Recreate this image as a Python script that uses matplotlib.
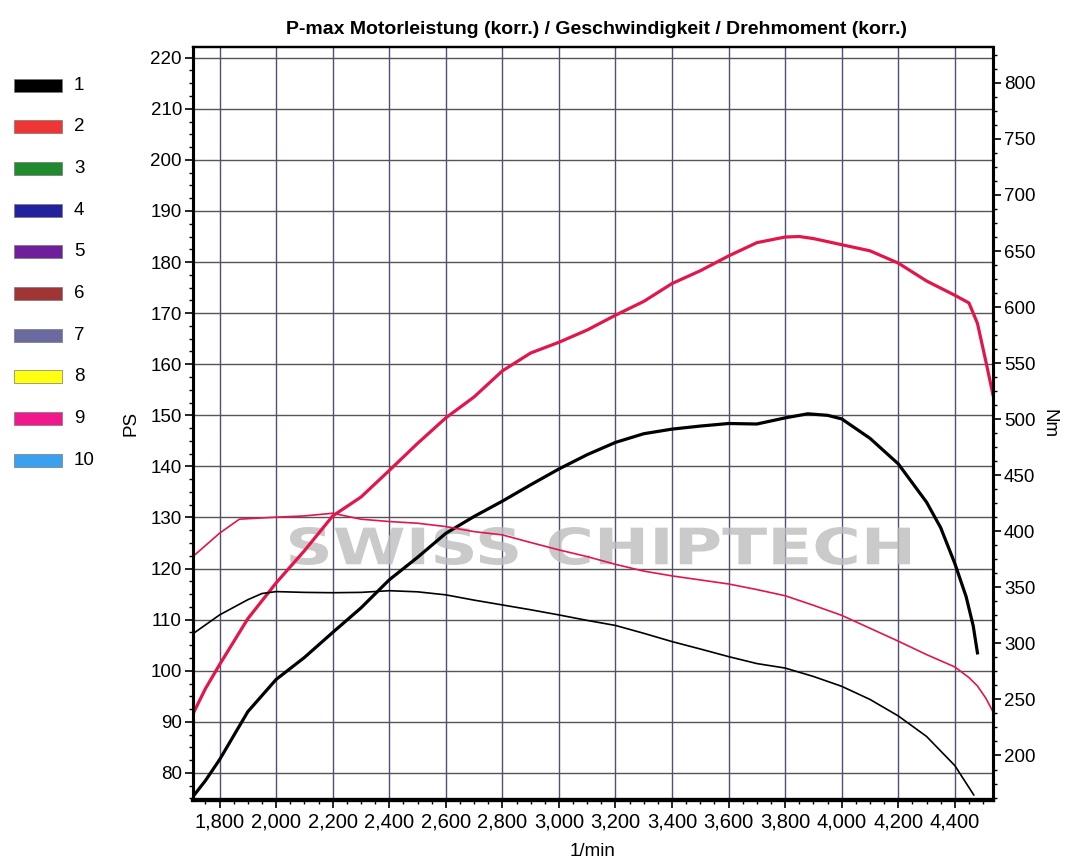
import matplotlib
matplotlib.use("Agg")
import matplotlib.pyplot as plt
import matplotlib.ticker as mticker
import matplotlib.transforms as mtransforms
from matplotlib.textpath import TextPath
from matplotlib.patches import PathPatch, Rectangle
from matplotlib.font_manager import FontProperties

plt.rcParams['font.family'] = ['Liberation Sans', 'DejaVu Sans']

# run 1 (black) power, PS
rpm_p1 = [1712, 1750, 1800, 1900, 2000, 2100, 2200, 2300, 2400, 2500, 2600, 2700,
          2800, 2900, 3000, 3100, 3200, 3300, 3400, 3500, 3600, 3700, 3800, 3880,
          3950, 4000, 4100, 4200, 4300, 4350, 4400, 4440, 4465, 4480]
ps_1 = [75.8, 78.5, 82.6, 92.0, 98.3, 102.6, 107.5, 112.3, 117.8, 122.2, 126.9, 130.2,
        133.2, 136.4, 139.5, 142.3, 144.7, 146.4, 147.3, 147.9, 148.4, 148.3, 149.5, 150.3,
        150.0, 149.3, 145.5, 140.5, 133.0, 128.0, 121.0, 114.5, 108.8, 103.5]

# run 2 (red) power, PS
rpm_p2 = [1708, 1750, 1800, 1900, 2000, 2100, 2200, 2300, 2400, 2500, 2600, 2700,
          2800, 2900, 3000, 3100, 3200, 3300, 3400, 3500, 3600, 3700, 3800, 3850,
          3900, 4000, 4100, 4200, 4300, 4400, 4450, 4480, 4510, 4535]
ps_2 = [91.8, 96.5, 101.2, 110.2, 117.2, 123.5, 130.3, 134.0, 139.2, 144.5, 149.5, 153.6,
        158.7, 162.2, 164.3, 166.7, 169.6, 172.3, 175.8, 178.3, 181.2, 183.8, 184.9, 185.0,
        184.6, 183.4, 182.2, 179.8, 176.3, 173.5, 172.0, 168.0, 160.5, 154.0]

# run 1 (black) torque, Nm
rpm_t1 = [1708, 1800, 1900, 1950, 2000, 2100, 2200, 2300, 2400, 2500, 2600, 2700,
          2800, 2900, 3000, 3100, 3200, 3300, 3400, 3500, 3600, 3700, 3800, 3900,
          4000, 4100, 4200, 4300, 4400, 4467]
nm_1 = [309, 325.4, 339, 344.5, 346.2, 345.5, 345.2, 345.5, 347, 346, 343.3, 338.6,
        334.3, 330, 325.4, 320.5, 316, 309, 301.6, 295, 288.2, 282, 278, 270.5,
        261.7, 250, 235.3, 217, 191, 164.8]

# run 2 (red) torque, Nm
rpm_t2 = [1708, 1800, 1870, 2000, 2100, 2200, 2300, 2400, 2500, 2600, 2700, 2800,
          2900, 3000, 3100, 3200, 3300, 3400, 3500, 3600, 3700, 3800, 3900, 4000,
          4100, 4200, 4300, 4400, 4450, 4480, 4510, 4535]
nm_2 = [378, 398.3, 410.8, 412.6, 413.7, 416.1, 410.8, 408.7, 407.2, 404.2, 399.7, 396.8,
        390, 383.4, 377.4, 370.5, 364.5, 360.2, 356.6, 353, 348, 342.5, 334, 325,
        313.5, 302, 290, 279, 269.5, 262, 251, 239]

legend_labels = ['1', '2', '3', '4', '5', '6', '7', '8', '9', '10']
legend_colors = ['#000000', '#f03535', '#1f8a2e', '#22229e', '#6f1f9a',
                 '#a03535', '#6a6a9e', '#ffff10', '#f0188a', '#3aa0f0']

RED = '#e3164b'
W, H = 1069, 864

fig = plt.figure(figsize=(W / 100, H / 100), dpi=100)
ax = fig.add_axes([193 / W, 1 - 800 / H, 800 / W, 753 / H])
ax2 = ax.twinx()

# power curves (left axis)
ax.plot(rpm_p1, ps_1, color='black', lw=2.3, zorder=3)
ax.plot(rpm_p2, ps_2, color=RED, lw=2.3, zorder=3)
# torque curves (right axis)
ax2.plot(rpm_t1, nm_1, color='black', lw=1.2)
ax2.plot(rpm_t2, nm_2, color=RED, lw=1.2)

ax.set_xlim(1706, 4535)
ax.set_ylim(74.7, 222.1)
ax2.set_ylim(160.3, 832)

ax.xaxis.set_major_locator(mticker.MultipleLocator(200))
ax.xaxis.set_minor_locator(mticker.MultipleLocator(50))
ax.xaxis.set_major_formatter(mticker.FuncFormatter(lambda v, p: f"{int(v):,}"))
ax.yaxis.set_major_locator(mticker.MultipleLocator(10))
ax.yaxis.set_minor_locator(mticker.MultipleLocator(2.5))
ax2.yaxis.set_major_locator(mticker.MultipleLocator(50))
ax2.yaxis.set_minor_locator(mticker.MultipleLocator(12.5))

ax.grid(True, axis='x', which='major', color='#4f4f7c', lw=1.0)
ax.grid(True, axis='y', which='major', color='#555555', lw=1.0)

for a in (ax, ax2):
    a.tick_params(which='major', length=6, width=1.2, labelsize=13.5, pad=2)
    a.tick_params(which='minor', length=3, width=1.0)
    for s in a.spines.values():
        s.set_linewidth(2.2)
    a.spines['top'].set_linewidth(1.6)
    a.spines['bottom'].set_linewidth(3.0)
ax.tick_params(axis='x', labelsize=14.5, pad=3)

ax.set_ylabel('PS', fontsize=13.5, labelpad=8)
ax2.set_ylabel('Nm', fontsize=13.5, rotation=270, labelpad=16)
ax.set_xlabel('1/min', fontsize=13.5, labelpad=8)
fig.text(596 / W, 1 - 30 / H, 'P-max Motorleistung (korr.) / Geschwindigkeit / Drehmoment (korr.)',
         ha='center', va='center', fontsize=14, fontweight='bold')

# watermark, stretched to the width of the original
tp = TextPath((0, 0), 'SWISS CHIPTECH', size=1,
              prop=FontProperties(family='DejaVu Sans', weight='bold'))
bb = tp.get_extents()
tr = (mtransforms.Affine2D().translate(-bb.x0, -bb.y0)
      .scale(620 / W / bb.width, 38 / H / bb.height)
      .translate(290 / W, 1 - 565 / H) + fig.transFigure)
wm = PathPatch(tp, transform=tr, facecolor='#bdbdbd', edgecolor='none', alpha=0.8, zorder=1.6)
ax.add_patch(wm)

# run legend on the left
for i, (lab, col) in enumerate(zip(legend_labels, legend_colors)):
    yc = 85 + i * 41.7
    fig.patches.append(Rectangle((14 / W, 1 - (yc + 6.5) / H), 48 / W, 13 / H,
                                 transform=fig.transFigure, facecolor=col,
                                 edgecolor='#777777', lw=0.5, figure=fig))
    fig.text(74 / W, 1 - yc / H, lab, ha='left', va='center', fontsize=13.5)

fig.savefig('out.png', dpi=100, facecolor='white')
